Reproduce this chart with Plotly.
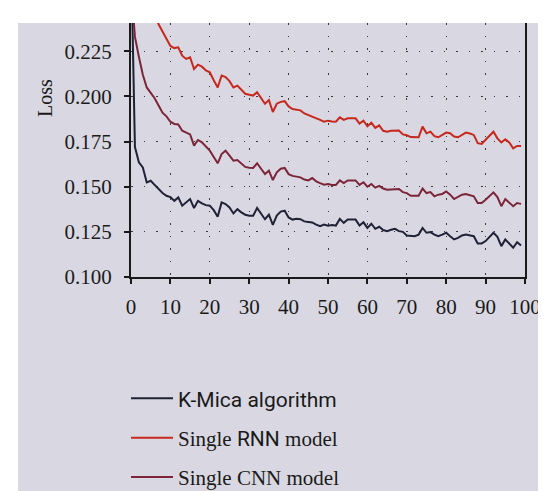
import plotly.graph_objects as go

epochs = list(range(100))

kmica = [
    0.28, 0.172, 0.1635, 0.1607, 0.1524, 0.1533, 0.151, 0.1485, 0.1465, 0.145,
    0.1443, 0.1422, 0.1441, 0.1395, 0.1413, 0.1432, 0.1382, 0.1422, 0.1408, 0.1398,
    0.1395, 0.137, 0.1334, 0.1413, 0.1404, 0.1385, 0.1352, 0.1376, 0.1358, 0.1345,
    0.1339, 0.1339, 0.1382, 0.1348, 0.132, 0.1345, 0.1289, 0.134, 0.1362, 0.1367,
    0.133, 0.1318, 0.1322, 0.132, 0.1308, 0.1305, 0.1302, 0.129, 0.1281, 0.129,
    0.1284, 0.1288, 0.1285, 0.1322, 0.13, 0.1318, 0.1318, 0.1318, 0.1285, 0.1303,
    0.1272, 0.1295, 0.1267, 0.1278, 0.126, 0.1254, 0.1262, 0.1267, 0.1254, 0.125,
    0.123, 0.1226, 0.1226, 0.1235, 0.1272, 0.1245, 0.1249, 0.1235, 0.1226, 0.1235,
    0.1245, 0.1226, 0.1208, 0.1217, 0.123, 0.1235, 0.123, 0.1226, 0.1186, 0.1186,
    0.1199, 0.122, 0.1245, 0.1222, 0.1171, 0.1208, 0.1186, 0.1162, 0.1193, 0.1175,
]

rnn = [
    0.300, 0.285, 0.275, 0.266, 0.260, 0.255, 0.246, 0.240, 0.236, 0.232,
    0.228, 0.2268, 0.2272, 0.2226, 0.2208, 0.2217, 0.2152, 0.2176, 0.2165, 0.2145,
    0.2134, 0.209, 0.205, 0.2116, 0.2107, 0.2085, 0.205, 0.206, 0.204, 0.2015,
    0.201, 0.2005, 0.2024, 0.199, 0.196, 0.198, 0.1914, 0.196, 0.197, 0.1974,
    0.1945, 0.193, 0.1925, 0.1923, 0.1906, 0.1898, 0.1888, 0.188, 0.187, 0.186,
    0.1866, 0.1862, 0.186, 0.1884, 0.187, 0.1879, 0.1879, 0.1879, 0.185, 0.1866,
    0.1835, 0.1855, 0.1826, 0.184, 0.181, 0.1805, 0.181, 0.1811, 0.1811, 0.179,
    0.1785, 0.1775, 0.1774, 0.1774, 0.1833, 0.1796, 0.1805, 0.178, 0.1774, 0.1787,
    0.180, 0.1796, 0.1778, 0.1774, 0.1787, 0.180, 0.1795, 0.1787, 0.1741, 0.1737,
    0.176, 0.178, 0.1805, 0.1768, 0.1745, 0.1763, 0.1745, 0.1713, 0.1726, 0.1726,
]

cnn = [
    0.262, 0.233, 0.222, 0.212, 0.205, 0.202, 0.199, 0.195, 0.191, 0.189,
    0.186, 0.1848, 0.1845, 0.181, 0.180, 0.179, 0.1728, 0.1759, 0.1746, 0.172,
    0.170, 0.1665, 0.163, 0.1681, 0.170, 0.1672, 0.1644, 0.1648, 0.163, 0.161,
    0.1605, 0.1604, 0.163, 0.1598, 0.157, 0.1589, 0.1537, 0.158, 0.160, 0.1604,
    0.157, 0.156, 0.1555, 0.1552, 0.154, 0.1535, 0.1548, 0.153, 0.152, 0.1511,
    0.1515, 0.151, 0.151, 0.1535, 0.152, 0.1535, 0.1535, 0.1535, 0.151, 0.1525,
    0.150, 0.1515, 0.1495, 0.1505, 0.149, 0.1483, 0.1485, 0.1487, 0.1487, 0.147,
    0.1465, 0.145, 0.145, 0.145, 0.149, 0.1465, 0.147, 0.1447, 0.1456, 0.146,
    0.1474, 0.1456, 0.1432, 0.1443, 0.1456, 0.146, 0.1455, 0.1447, 0.141, 0.141,
    0.1428, 0.145, 0.1469, 0.1443, 0.1392, 0.1432, 0.141, 0.1392, 0.141, 0.1405,
]

x_ticks = [0, 10, 20, 30, 40, 50, 60, 70, 80, 90, 100]
y_ticks = [0.100, 0.125, 0.150, 0.175, 0.200, 0.225]

names = [
    "<span style='font-family:Roboto'>K-Mica algorithm</span>",
    "Single <span style='font-family:Roboto'>RNN</span> model",
    "Single CNN model",
]
colors = ["#1f2136", "#c6281d", "#7c2438"]
series = [kmica, rnn, cnn]
legends = ["legend", "legend2", "legend3"]

BG = "#d9d8e2"
SERIF = "Liberation Serif, Times New Roman, serif"

fig = go.Figure()
for name, col, ys, lg in zip(names, colors, series, legends):
    fig.add_trace(go.Scatter(
        x=epochs, y=ys, mode="lines", name=name,
        line=dict(color=col, width=2), legend=lg,
    ))

W, H = 546, 491
L, R, T, B = 123, 29, 15, 222
pw, ph = W - L - R, H - T - B

def px2paper_x(px):
    return (px - L) / pw

def py2paper_y(py):
    return (H - B - py) / ph

leg_common = dict(
    bgcolor="rgba(0,0,0,0)", borderwidth=0,
    xanchor="left", yanchor="middle",
    font=dict(family=SERIF, size=21, color="#1a1a1a"),
    itemwidth=42,
)
lx = px2paper_x(118)
fig.update_layout(
    legend=dict(x=lx, y=py2paper_y(390.7), **leg_common),
    legend2=dict(x=lx, y=py2paper_y(430), **leg_common),
    legend3=dict(x=lx, y=py2paper_y(469.3), **leg_common),
)

grid_dash = "1.5px,11px"
fig.update_xaxes(
    range=[0, 100], tickvals=x_ticks, ticktext=[str(v) for v in x_ticks],
    showgrid=True, gridcolor="#3a3a3a", gridwidth=1.2, griddash=grid_dash,
    zeroline=False, showline=True, linecolor="#1a1a1a", linewidth=2,
    ticks="outside", ticklen=5, tickwidth=1.5, tickcolor="#1a1a1a",
    tickfont=dict(family=SERIF, size=21, color="#1a1a1a"),
    ticklabelstandoff=5, mirror=False,
)
fig.update_yaxes(
    range=[0.1, 0.2407], tickvals=y_ticks, ticktext=[f"{v:.3f}" for v in y_ticks],
    showgrid=True, gridcolor="#3a3a3a", gridwidth=1.2, griddash=grid_dash,
    zeroline=False, showline=True, linecolor="#1a1a1a", linewidth=2,
    ticks="outside", ticklen=5, tickwidth=1.5, tickcolor="#1a1a1a",
    tickfont=dict(family=SERIF, size=21, color="#1a1a1a"),
    ticklabelstandoff=8, mirror=True,
)

fig.add_shape(
    type="rect", xref="paper", yref="paper", layer="below",
    x0=px2paper_x(10), x1=px2paper_x(W + 5),
    y0=py2paper_y(H + 5), y1=py2paper_y(15),
    fillcolor=BG, line=dict(width=0),
)

fig.add_annotation(
    text="Loss", xref="paper", yref="paper",
    x=px2paper_x(37), y=py2paper_y(90), textangle=-90,
    showarrow=False, font=dict(family=SERIF, size=20, color="#1a1a1a"),
    xanchor="center", yanchor="middle",
)

fig.update_layout(
    width=W, height=H,
    margin=dict(l=L, r=R, t=T, b=B, pad=0, autoexpand=False),
    paper_bgcolor="white", plot_bgcolor=BG,
    showlegend=True,
)

fig.write_html("out.html")
